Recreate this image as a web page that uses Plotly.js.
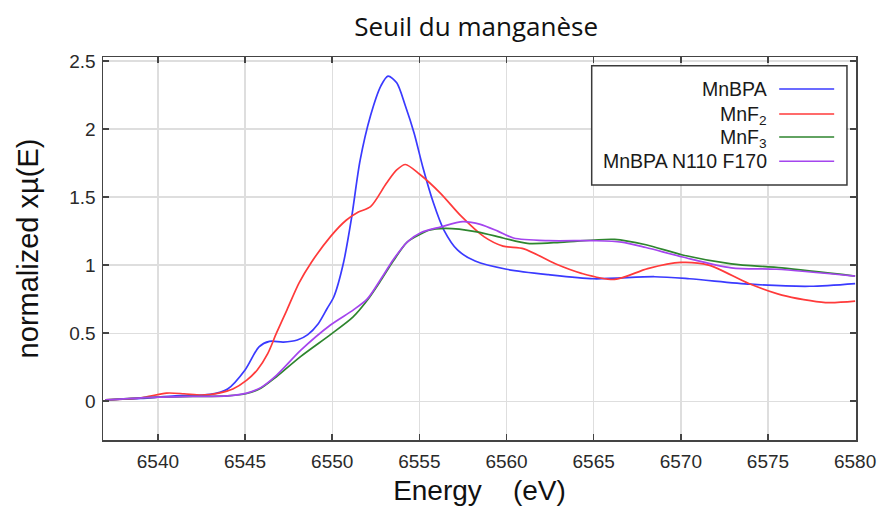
<!DOCTYPE html>
<html>
<head>
<meta charset="utf-8">
<script src="https://cdn.plot.ly/plotly-3.0.1.min.js"></script>
<style>html,body{margin:0;padding:0;background:#fff;}#chart{width:880px;height:510px;}</style>
</head>
<body>
<div id="chart"></div>
<script>
// ---- data ----
const seriesNames = ["MnBPA", "MnF<sub>2</sub>", "MnF<sub>3</sub>", "MnBPA N110 F170"];
const seriesColors = ["#3a3aff", "#ff3a3a", "#2e852e", "#a445ee"];

const energyMnBPA = [6537, 6539, 6541, 6543, 6544, 6545, 6545.8, 6546.4, 6547.2, 6548, 6548.6, 6549.2, 6549.7, 6550.1, 6550.65, 6551.1, 6551.6, 6552.2, 6552.8, 6553.2, 6553.7, 6554.2, 6554.7, 6555.2, 6555.8, 6556.4, 6557.2, 6558.2, 6560, 6562.4, 6565, 6568.5, 6570.5, 6574, 6577.4, 6580];
const muMnBPA = [0.01, 0.02, 0.04, 0.05, 0.09, 0.23, 0.40, 0.44, 0.435, 0.45, 0.49, 0.57, 0.68, 0.77, 1.02, 1.34, 1.77, 2.10, 2.32, 2.39, 2.34, 2.17, 1.97, 1.72, 1.46, 1.26, 1.11, 1.03, 0.97, 0.93, 0.90, 0.915, 0.90, 0.86, 0.845, 0.865];

const energyMnF2 = [6537, 6539, 6540.5, 6541.5, 6542.5, 6543.5, 6544.3, 6545.1, 6545.7, 6546.3, 6546.8, 6547.4, 6548.1, 6548.8, 6549.9, 6550.8, 6551.5, 6552.2, 6553.1, 6553.7, 6554.2, 6555, 6556.2, 6557.4, 6558.7, 6559.8, 6561, 6562.8, 6564.3, 6566.2, 6568.1, 6570, 6571.6, 6573.9, 6575.8, 6578.3, 6580];
const muMnF2 = [0.01, 0.025, 0.06, 0.055, 0.045, 0.06, 0.09, 0.155, 0.23, 0.35, 0.50, 0.67, 0.87, 1.02, 1.21, 1.33, 1.39, 1.43, 1.60, 1.70, 1.74, 1.67, 1.53, 1.36, 1.21, 1.14, 1.12, 1.01, 0.94, 0.895, 0.975, 1.02, 1.0, 0.865, 0.78, 0.725, 0.735];

const energyMnF3 = [6537, 6540, 6542, 6544, 6545.1, 6545.9, 6546.8, 6548.2, 6549.9, 6551.2, 6552, 6552.8, 6553.5, 6554.3, 6555.1, 6555.5, 6556.5, 6558.3, 6559.8, 6561.2, 6563.3, 6566.2, 6568, 6570.1, 6572.9, 6575.8, 6580];
const muMnF3 = [0.01, 0.03, 0.035, 0.04, 0.057, 0.095, 0.18, 0.33, 0.49, 0.62, 0.74, 0.89, 1.03, 1.17, 1.23, 1.255, 1.27, 1.245, 1.20, 1.16, 1.17, 1.19, 1.15, 1.075, 1.01, 0.98, 0.92];

const energyN110 = [6537, 6540, 6542, 6544, 6545.1, 6545.9, 6546.8, 6548.2, 6549.9, 6551.2, 6552, 6552.8, 6553.5, 6554.3, 6555.1, 6556.2, 6557.5, 6558.5, 6559.5, 6560.4, 6562.4, 6565, 6566.6, 6568, 6570.1, 6572.9, 6575.5, 6580];
const muN110 = [0.01, 0.03, 0.035, 0.04, 0.06, 0.10, 0.19, 0.375, 0.56, 0.67, 0.75, 0.90, 1.04, 1.17, 1.24, 1.28, 1.32, 1.30, 1.25, 1.20, 1.18, 1.18, 1.17, 1.13, 1.06, 0.98, 0.97, 0.92];

const xTicks = [6540, 6545, 6550, 6555, 6560, 6565, 6570, 6575, 6580];
const yTicks = [0, 0.5, 1, 1.5, 2, 2.5];
const yTickText = ["0", "0.5", "1", "1.5", "2", "2.5"];

// ---- chart ----
const xs = [energyMnBPA, energyMnF2, energyMnF3, energyN110];
const ys = [muMnBPA, muMnF2, muMnF3, muN110];
const traces = xs.map((x, i) => ({
  x: x, y: ys[i], type: 'scatter', mode: 'lines', name: seriesNames[i],
  line: {color: seriesColors[i], width: 1.7, shape: 'spline', smoothing: 0.8},
  showlegend: false
}));

const fontMain = '"Liberation Sans", Arial, sans-serif';

// custom legend (symbol on the right, text right-aligned)
const legRowsY = [0.9165, 0.851, 0.791, 0.728];
const shapes = [{
  type: 'rect', xref: 'paper', yref: 'paper', x0: 0.649, x1: 0.988, y0: 0.666, y1: 0.977,
  line: {color: '#3a3a3a', width: 1.5}, fillcolor: '#ffffff', layer: 'above'
}];
const annotations = [];
seriesNames.forEach((n, i) => {
  shapes.push({type: 'line', xref: 'paper', yref: 'paper', x0: 0.898, x1: 0.971,
    y0: legRowsY[i], y1: legRowsY[i], line: {color: seriesColors[i], width: 1.6}, layer: 'above'});
  annotations.push({xref: 'paper', yref: 'paper', x: 0.885, y: legRowsY[i] + (i === 1 || i === 2 ? -0.004 : 0),
    xanchor: 'right', yanchor: 'middle', text: n, showarrow: false,
    font: {family: fontMain, size: 19.5, color: '#1a1a1a'}});
});

const axisCommon = {
  showline: true, linecolor: '#444', linewidth: 1.5, mirror: 'allticks',
  ticks: 'inside', ticklen: 6, tickwidth: 1.5, tickcolor: '#444',
  showgrid: true, gridcolor: '#dedede', gridwidth: 1.4, zeroline: false,
  tickfont: {family: fontMain, size: 19, color: '#2a2a2a'}
};

const layout = {
  width: 880, height: 510,
  margin: {l: 103, r: 24, t: 57, b: 70},
  paper_bgcolor: '#fff', plot_bgcolor: '#fff',
  title: {text: 'Seuil du manganèse', x: 0.541, xanchor: 'center', y: 0.947, yanchor: 'middle',
    font: {family: '"Open Sans", "Noto Sans", sans-serif', size: 26, color: '#111'}},
  xaxis: Object.assign({}, axisCommon, {
    range: [6536.85, 6580.05], tickvals: xTicks, ticktext: xTicks.map(String),
    ticklabelstandoff: 4,
    title: {text: 'Energy&nbsp;&nbsp;&nbsp;&nbsp;(eV)', standoff: 9,
      font: {family: fontMain, size: 28, color: '#111'}}
  }),
  yaxis: Object.assign({}, axisCommon, {
    range: [-0.285, 2.53], tickvals: yTicks, ticktext: yTickText,
    ticklabelstandoff: 2,
    title: {text: 'normalized xµ(E)', standoff: 22,
      font: {family: fontMain, size: 29, color: '#111'}}
  }),
  shapes: shapes,
  annotations: annotations,
  showlegend: false
};

Plotly.newPlot('chart', traces, layout, {displayModeBar: false, staticPlot: true});
</script>
</body>
</html>
